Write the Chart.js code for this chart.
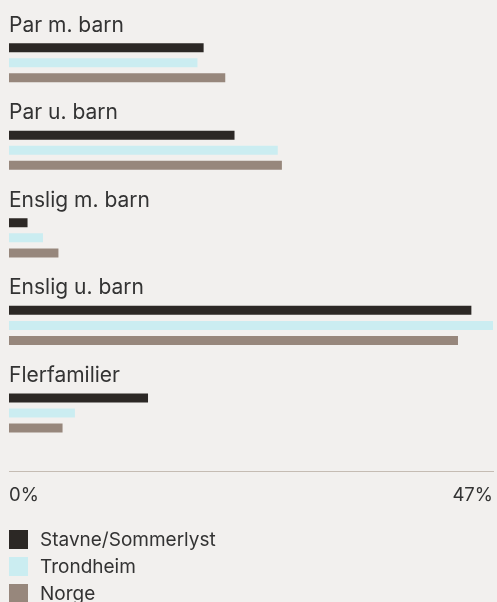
<!DOCTYPE html>
<html>
<head>
<meta charset="utf-8">
<script src="https://cdn.jsdelivr.net/npm/chart.js@4"></script>
<style>
  html, body { margin: 0; padding: 0; background: #f2f0ee; }
  body { position: relative; width: 497px; height: 602px; overflow: hidden; font-family: Inter, "Noto Sans", sans-serif; }
  #chart-container { position: relative; width: 497px; height: 538px; }
  #legend { position: absolute; left: 9px; top: 526px; }
  .legend-row { display: flex; align-items: center; height: 27px; font-size: 19px; color: #333; }
  .legend-box { width: 19px; height: 19px; margin-right: 12px; }
</style>
</head>
<body>
<div id="chart-container"><canvas id="chart"></canvas></div>
<div id="legend"></div>
<script>
const categories = ['Par m. barn', 'Par u. barn', 'Enslig m. barn', 'Enslig u. barn', 'Flerfamilier'];
const seriesNames = ['Stavne/Sommerlyst', 'Trondheim', 'Norge'];
const stavne = [18.9, 21.9, 1.8, 44.9, 13.5];
const trondheim = [18.3, 26.1, 3.3, 47.0, 6.4];
const norge = [21.0, 26.5, 4.8, 43.6, 5.2];
const axisMax = 47;
const tickValues = [0, 47];
const colors = ['#2c2825', '#cbedf1', '#97877c'];

const ctx = document.getElementById('chart').getContext('2d');

// category titles drawn above each group of bars
const groupLabels = {
    id: 'groupLabels',
    afterDatasetsDraw(chart) {
        const meta = chart.getDatasetMeta(0);
        const c = chart.ctx;
        c.save();
        c.font = '21px Inter, "Noto Sans", sans-serif';
        c.fillStyle = '#333';
        c.textAlign = 'left';
        c.textBaseline = 'alphabetic';
        meta.data.forEach((bar, i) => {
            c.fillText(categories[i], chart.chartArea.left, bar.y - bar.height / 2 - 11.5);
        });
        c.restore();
    }
};

const values = [stavne, trondheim, norge];
const datasets = values.map((v, i) => ({
    label: seriesNames[i],
    data: v,
    backgroundColor: colors[i],
    borderWidth: 0
}));
// two empty slots below the bars so each group sits under its title
datasets.push({ label: '', data: categories.map(() => null) });
datasets.push({ label: '', data: categories.map(() => null) });

new Chart(ctx, {
    type: 'bar',
    data: { labels: categories, datasets },
    options: {
        indexAxis: 'y',
        responsive: true,
        maintainAspectRatio: false,
        animation: false,
        categoryPercentage: 0.86,
        barPercentage: 0.6,
        layout: { padding: { left: 9, right: 4, top: 34, bottom: 18 } },
        scales: {
            x: {
                min: 0,
                max: axisMax,
                afterBuildTicks: (scale) => { scale.ticks = tickValues.map(v => ({ value: v })); },
                afterFit: (scale) => { scale.paddingLeft = 0; scale.paddingRight = 0; },
                ticks: {
                    align: 'inner',
                    padding: 13,
                    color: '#333',
                    font: { family: 'Inter', size: 18.5 },
                    callback: (v) => v + '%'
                },
                grid: { display: false, drawTicks: false },
                border: { display: true, color: '#c5bcb3', width: 1 }
            },
            y: { display: false }
        },
        plugins: {
            legend: { display: false },
            tooltip: { enabled: false }
        }
    },
    plugins: [groupLabels]
});

const legend = document.getElementById('legend');
seriesNames.forEach((name, i) => {
    const row = document.createElement('div');
    row.className = 'legend-row';
    row.innerHTML = `<span class="legend-box" style="background:${colors[i]}"></span>${name}`;
    legend.appendChild(row);
});
</script>
</body>
</html>
